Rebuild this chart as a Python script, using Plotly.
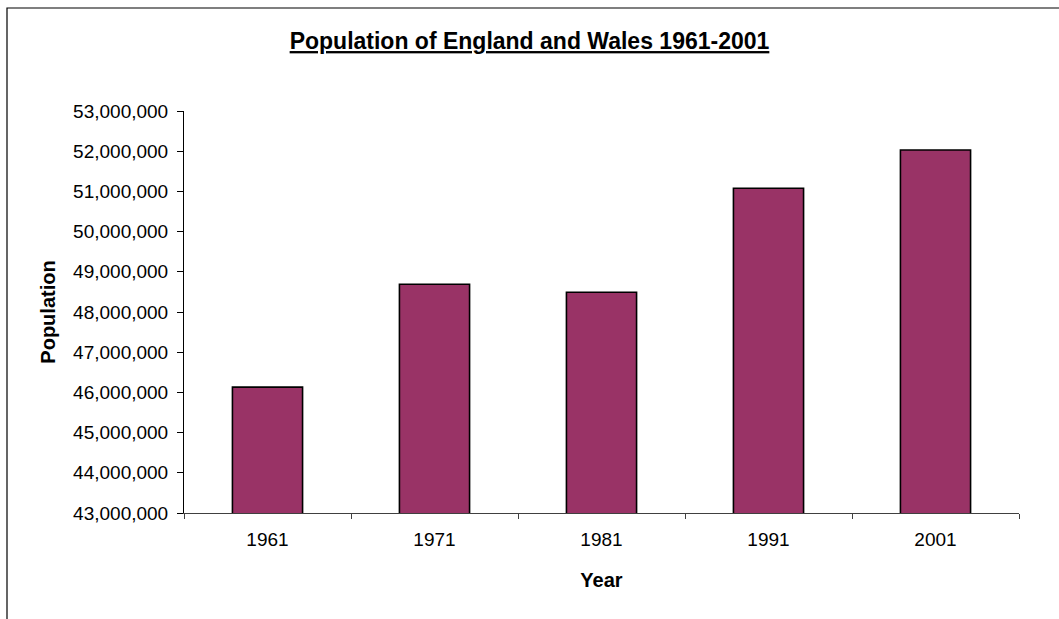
import plotly.graph_objects as go

years = ["1961", "1971", "1981", "1991", "2001"]
population = [46130000, 48690000, 48490000, 51080000, 52030000]

W, H = 1059, 619
ML, MR, MT, MB = 184, 40, 111, 106

FONT = "Liberation Sans, Arial, sans-serif"

fig = go.Figure(
    go.Bar(
        x=years,
        y=population,
        marker=dict(color="#993366", line=dict(color="#000000", width=1.6)),
        width=0.42,
    )
)

pw = W - ML - MR
ph = H - MT - MB

fig.update_layout(
    width=W,
    height=H,
    margin=dict(l=ML, r=MR, t=MT, b=MB, pad=0),
    paper_bgcolor="white",
    plot_bgcolor="white",
    showlegend=False,
    font=dict(family=FONT, size=19, color="#000000"),
    title=dict(
        text="<b><u>Population of England and Wales 1961-2001</u></b>",
        font=dict(family=FONT, size=23, color="#000000"),
        x=0.5,
        xref="container",
        xanchor="center",
        y=1 - 41 / H,
        yref="container",
        yanchor="middle",
    ),
    xaxis=dict(
        type="category",
        showline=True,
        linecolor="#404040",
        linewidth=1,
        ticks="outside",
        tickson="boundaries",
        ticklen=5,
        tickcolor="#404040",
        showgrid=False,
        ticklabelstandoff=9,
        tickfont=dict(size=19),
        title=dict(text="<b>Year</b>", font=dict(size=20), standoff=24),
    ),
    yaxis=dict(
        range=[43000000, 53000000],
        dtick=1000000,
        tickformat=",d",
        showline=True,
        linecolor="#000000",
        linewidth=1,
        ticks="outside",
        ticklen=6,
        tickcolor="#000000",
        showgrid=False,
        zeroline=False,
        ticklabelstandoff=5,
        tickfont=dict(size=19),
        title=dict(text="<b>Population</b>", font=dict(size=20), standoff=12),
    ),
)

# outer chart border (left and top visible, right/bottom beyond the page)
fig.add_shape(
    type="path",
    xref="paper",
    yref="paper",
    path=(
        f"M {(7 - ML) / pw},{-(H - MT + 20) / ph} "
        f"L {(7 - ML) / pw},{1 + (MT - 8) / ph} "
        f"L {1 + (MR + 20) / pw},{1 + (MT - 8) / ph}"
    ),
    line=dict(color="#000000", width=1.2),
)

fig.write_html("out.html")
